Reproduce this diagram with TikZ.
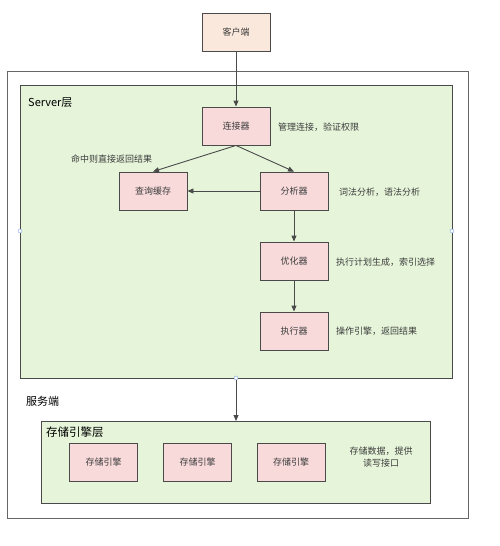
\documentclass[tikz,border=0pt]{standalone}
\usepackage{fontspec}
\setmainfont{Noto Sans CJK SC}
\usetikzlibrary{arrows.meta}
\definecolor{boxpink}{HTML}{F8DADB}
\definecolor{boxpeach}{HTML}{FAE8DC}
\definecolor{layergreen}{HTML}{E6F5DA}
\definecolor{edgegray}{HTML}{4A4A4A}
\definecolor{textgray}{HTML}{3C3C3C}
\definecolor{handleblue}{HTML}{7EA6E0}
\tikzset{
	modbox/.style={draw=edgegray, line width=0.9pt, fill=boxpink, minimum width=68pt, minimum height=38pt, inner sep=0pt, text=textgray, font=\fontsize{9}{11}\selectfont},
	layerbox/.style={draw=edgegray, line width=0.9pt, fill=layergreen},
	note/.style={text=textgray, font=\fontsize{9}{12}\selectfont, inner sep=0pt},
	flow/.style={draw=edgegray, line width=0.9pt, -{Triangle[length=6pt,width=5pt]}},
	handle/.style={circle, draw=handleblue, fill=white, line width=0.4pt, minimum size=4pt, inner sep=0pt}
}
\begin{document}
\begin{tikzpicture}[x=1pt,y=-1pt]
			\useasboundingbox (0,0) rectangle (500,546);
			%%%%% START %%%%%
			% outer server frame and the two layers
			\draw[draw=gray!80!black, line width=0.9pt, fill=white] (7,71) rectangle (468,518);
			\draw[layerbox] (20,85) rectangle (452,378);
			\draw[layerbox] (41,421) rectangle (430,503);
			\node[anchor=west, inner sep=0pt, font=\fontsize{11}{13}\selectfont] at (28,103) {Server层};
			\node[anchor=west, inner sep=0pt, font=\fontsize{11}{13}\selectfont] at (26,401) {服务端};
			\node[anchor=west, inner sep=0pt, font=\fontsize{11.5}{13}\selectfont] at (46,432) {存储引擎层};
			
			% client
			\node[modbox, fill=boxpeach] (client) at (236,32.5) {客户端};
			
			% server layer modules
			\node[modbox] (connector) at (236,126) {连接器};
			\node[modbox] (cache) at (153,191) {查询缓存};
			\node[modbox] (analyzer) at (294,191) {分析器};
			\node[modbox] (optimizer) at (294,261) {优化器};
			\node[modbox] (executor) at (294,331) {执行器};
			
			\node[note, anchor=west] at (278,127) {管理连接，验证权限};
			\node[note, anchor=west] at (71,159) {命中则直接返回结果};
			\node[note, anchor=west] at (339,192) {词法分析，语法分析};
			\node[note, anchor=west] at (336,262) {执行计划生成，索引选择};
			\node[note, anchor=west] at (336,331) {操作引擎，返回结果};
			
			% storage engines
			\node[modbox] (engineA) at (103.5,462) {存储引擎};
			\node[modbox] (engineB) at (197.5,462) {存储引擎};
			\node[modbox] (engineC) at (291,462) {存储引擎};
			\node[note, align=center] at (381,457) {存储数据，提供\\读写接口};
			
			% selection handles
			\node[handle] (hleft) at (20,231) {};
			\node[handle] (hright) at (452,231) {};
			\node[handle] (hbottom) at (236,378) {};
			\coordinate (storagetop) at (236,421);
			
			% connectors
			\draw[flow] (client) -- (connector);
			\draw[flow] (connector.south) -- (cache.north);
			\draw[flow] (connector.south) -- (analyzer.north);
			\draw[flow] (analyzer) -- (cache);
			\draw[flow] (analyzer) -- (optimizer);
			\draw[flow] (optimizer) -- (executor);
			\draw[flow] (hbottom) -- (storagetop);
			%%%%% END %%%%%
\end{tikzpicture}
\end{document}
